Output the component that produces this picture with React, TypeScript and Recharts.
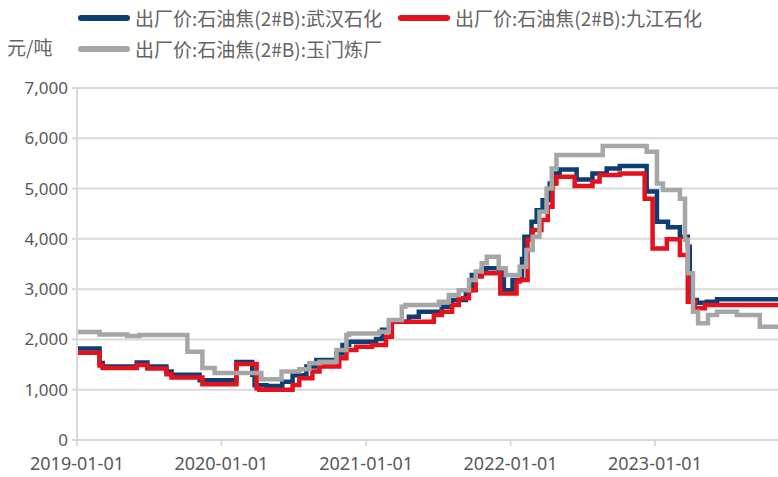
import React from 'react';
import { LineChart, Line, XAxis, YAxis, CartesianGrid, Legend } from 'recharts';

const seriesNames = [
  '出厂价:石油焦(2#B):武汉石化',
  '出厂价:石油焦(2#B):九江石化',
  '出厂价:石油焦(2#B):玉门炼厂',
];
const seriesColors = ['#0b3e73', '#e3121d', '#a6a6a6'];
const unitLabel = '元/吨';

const wuhanDates = [
  '2019-01-01', '2019-02-27', '2019-03-07', '2019-06-01', '2019-06-28', '2019-08-15', '2019-08-28', '2019-11-07',
  '2020-02-08', '2020-03-19', '2020-03-25', '2020-04-24', '2020-06-03', '2020-06-29', '2020-08-03', '2020-08-28',
  '2020-10-18', '2020-11-02', '2020-11-19', '2021-01-26', '2021-02-10', '2021-03-04', '2021-04-19', '2021-05-14',
  '2021-07-11', '2021-08-06', '2021-09-10', '2021-09-25', '2021-10-20', '2021-10-30', '2021-12-02', '2021-12-15',
  '2022-01-06', '2022-01-30', '2022-02-05', '2022-02-23', '2022-03-08', '2022-03-23', '2022-04-10', '2022-04-22',
  '2022-05-05', '2022-06-17', '2022-07-27', '2022-09-01', '2022-10-04', '2022-12-11', '2023-01-06', '2023-02-03',
  '2023-03-05', '2023-03-25', '2023-03-30', '2023-04-17', '2023-05-12', '2023-06-07', '2023-11-08',
];
const wuhanPrices = [
  1820, 1530, 1460, 1540, 1460, 1360, 1300, 1190,
  1550, 1300, 1090, 1075, 1160, 1290, 1460, 1590,
  1720, 1890, 1955, 2010, 2190, 2350, 2450, 2550,
  2650, 2785, 2980, 3280, 3380, 3415, 3350, 2980,
  3180, 3600, 4040, 4340, 4570, 4770, 5100, 5300,
  5380, 5180, 5300, 5400, 5450, 4940, 4340, 4230,
  4040, 3845, 2785, 2730, 2750, 2800, 2800,
];

const jiujiangDates = [
  '2019-01-01', '2019-02-27', '2019-03-07', '2019-06-01', '2019-06-28', '2019-08-15', '2019-08-28', '2019-11-14',
  '2020-02-08', '2020-03-30', '2020-04-06', '2020-06-29', '2020-07-16', '2020-08-18', '2020-09-05', '2020-10-25',
  '2020-11-12', '2020-12-07', '2021-01-16', '2021-02-20', '2021-03-07', '2021-06-21', '2021-07-11', '2021-08-06',
  '2021-08-23', '2021-09-18', '2021-10-05', '2021-10-20', '2021-12-06', '2022-01-16', '2022-01-24', '2022-02-13',
  '2022-02-26', '2022-03-20', '2022-04-05', '2022-04-17', '2022-04-27', '2022-06-12', '2022-07-27', '2022-08-14',
  '2022-10-04', '2022-12-06', '2022-12-26', '2023-01-31', '2023-03-05', '2023-03-25', '2023-04-12', '2023-05-07',
  '2023-11-08',
];
const jiujiangPrices = [
  1735, 1480, 1430, 1490, 1420, 1310, 1245, 1110,
  1510, 1028, 1000, 1094, 1230, 1360, 1460, 1625,
  1790, 1855, 1890, 2055, 2350, 2485, 2550, 2685,
  2820, 2980, 3250, 3315, 2915, 3150, 3180, 3980,
  4175, 4375, 4640, 5100, 5235, 5050, 5140, 5270,
  5300, 4800, 3810, 3990, 3680, 2750, 2620, 2685,
  2685,
];

const yumenDates = [
  '2019-01-01', '2019-02-27', '2019-05-08', '2019-06-08', '2019-10-07', '2019-11-14', '2019-12-15', '2020-04-11',
  '2020-06-01', '2020-07-16', '2020-08-10', '2020-09-05', '2020-10-18', '2020-11-12', '2020-11-19', '2021-02-03',
  '2021-02-27', '2021-04-01', '2021-04-10', '2021-07-04', '2021-07-29', '2021-08-23', '2021-09-18', '2021-10-05',
  '2021-10-20', '2021-11-02', '2021-12-02', '2021-12-20', '2022-01-24', '2022-02-10', '2022-02-26', '2022-03-15',
  '2022-04-02', '2022-04-15', '2022-04-27', '2022-08-22', '2022-12-11', '2023-01-06', '2023-01-21', '2023-03-05',
  '2023-03-18', '2023-03-25', '2023-04-07', '2023-04-20', '2023-05-15', '2023-06-07', '2023-07-27', '2023-09-23',
  '2023-11-08',
];
const yumenPrices = [
  2150, 2100, 2070, 2090, 1755, 1430, 1330, 1210,
  1360, 1405, 1525, 1557, 1790, 2090, 2120, 2155,
  2385, 2650, 2685, 2750, 2885, 2980, 3180, 3350,
  3515, 3645, 3415, 3280, 3445, 3780, 4040, 4540,
  5000, 5400, 5670, 5845, 5730, 5100, 4970, 4800,
  3980, 3315, 2550, 2320, 2485, 2550, 2485, 2250,
  2250,
];

const xTickLabels = ['2019-01-01', '2020-01-01', '2021-01-01', '2022-01-01', '2023-01-01'];
const yTicks = [0, 1000, 2000, 3000, 4000, 5000, 6000, 7000];
const xStart = '2019-01-01';
const xEnd = '2023-11-08';

const toT = (d: string) => Date.parse(d + 'T00:00:00Z');
const build = (dates: string[], values: number[]) => dates.map((d, i) => ({ t: toT(d), v: values[i] }));

const wuhanData = build(wuhanDates, wuhanPrices);
const jiujiangData = build(jiujiangDates, jiujiangPrices);
const yumenData = build(yumenDates, yumenPrices);

const xTicks = xTickLabels.map(toT);
const fmtX = (t: number) => new Date(t).toISOString().slice(0, 10);
const fmtY = (v: number) => v.toString().replace(/\B(?=(\d{3})+(?!\d))/g, ',');

const cjkFont = "'Noto Sans CJK SC', 'Noto Sans', sans-serif";
const tickFont = "'Noto Sans', 'Open Sans', sans-serif";

const LegendBox = () => {
  const item = (i: number, left: number, top: number) => (
    <div key={i} style={{ position: 'absolute', left, top, display: 'flex', alignItems: 'center', whiteSpace: 'nowrap' }}>
      <svg width={52} height={10} style={{ marginRight: 5 }}>
        <line x1={3} y1={5} x2={49} y2={5} stroke={seriesColors[i]} strokeWidth={6} strokeLinecap="round" />
      </svg>
      <span style={{ fontFamily: cjkFont, fontSize: 19, color: '#646464', lineHeight: '24px' }}>{seriesNames[i]}</span>
    </div>
  );
  return (
    <div style={{ position: 'relative', width: 778, height: 80 }}>
      {item(0, 78, 6)}
      {item(1, 398, 6)}
      {item(2, 78, 37)}
      <div style={{ position: 'absolute', left: 7, top: 34, fontFamily: cjkFont, fontSize: 19, color: '#646464', lineHeight: '26px' }}>
        {unitLabel}
      </div>
    </div>
  );
};

export default function App() {
  return (
    <div style={{ position: 'absolute', left: 0, top: 0, width: 778, height: 477, background: '#fff' }}>
      <LineChart width={778} height={477} margin={{ top: 88, right: 0, bottom: 0, left: 0 }}>
        <CartesianGrid horizontal vertical={false} stroke="#d9d9d9" strokeWidth={2} />
        <XAxis
          type="number"
          dataKey="t"
          domain={[toT(xStart), toT(xEnd)]}
          ticks={xTicks}
          tickFormatter={fmtX}
          allowDataOverflow
          height={37}
          stroke="#d9d9d9"
          strokeWidth={2}
          tickSize={6}
          tickMargin={11}
          tick={{ fill: '#595959', fontSize: 18, fontFamily: tickFont }}
        />
        <YAxis
          type="number"
          domain={[0, 7000]}
          ticks={yTicks}
          tickFormatter={fmtY}
          width={77}
          stroke="#d9d9d9"
          strokeWidth={2}
          tickSize={5}
          tickMargin={4}
          tick={{ fill: '#595959', fontSize: 17, fontFamily: tickFont }}
        />
        <Legend
          layout="horizontal"
          verticalAlign="middle"
          align="center"
          content={() => <LegendBox />}
          wrapperStyle={{ position: 'absolute', left: 0, top: 0, width: 778, height: 80 }}
        />
        <Line data={wuhanData} dataKey="v" name={seriesNames[0]} type="stepAfter" stroke={seriesColors[0]} strokeWidth={4.5} dot={false} isAnimationActive={false} />
        <Line data={jiujiangData} dataKey="v" name={seriesNames[1]} type="stepAfter" stroke={seriesColors[1]} strokeWidth={4.5} dot={false} isAnimationActive={false} />
        <Line data={yumenData} dataKey="v" name={seriesNames[2]} type="stepAfter" stroke={seriesColors[2]} strokeWidth={4.5} dot={false} isAnimationActive={false} />
      </LineChart>
    </div>
  );
}
